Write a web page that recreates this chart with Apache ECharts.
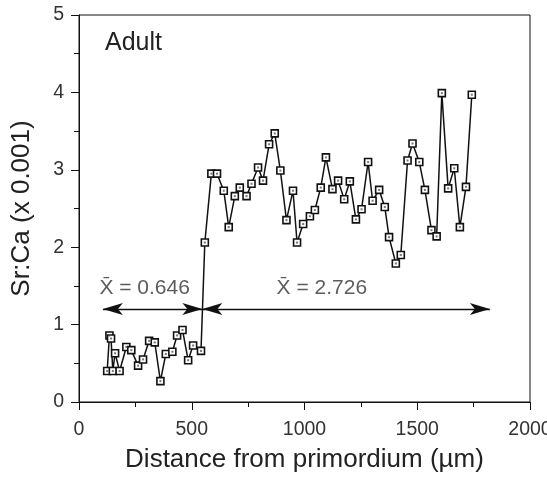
<!DOCTYPE html>
<html><head><meta charset="utf-8">
<script src="https://cdn.jsdelivr.net/npm/echarts@6/dist/echarts.min.js"></script>
<style>html,body{margin:0;padding:0;background:#fff}#c{width:547px;height:479px}</style>
</head><body><div id="c"></div>
<script>
const distance = [125,135,142,150,160,180,210,232,262,284,311,336,361,385,414,435,459,484,506,541,
 558,587,612,642,664,691,713,743,765,794,816,843,868,893,920,949,967,994,1024,1046,1072,1095,1124,1149,
 1176,1201,1228,1253,1282,1302,1331,1356,1375,1405,1427,1457,1479,1509,1534,1563,1586,1609,1637,1664,1689,1716,1742];
const srca = [0.40,0.86,0.82,0.40,0.63,0.40,0.71,0.67,0.47,0.55,0.79,0.77,0.27,0.62,0.65,0.86,0.93,0.54,0.73,0.66,
 2.06,2.95,2.95,2.73,2.26,2.66,2.77,2.66,2.82,3.03,2.86,3.33,3.47,2.99,2.35,2.73,2.06,2.30,2.40,2.48,2.77,3.16,2.75,2.86,
 2.62,2.85,2.36,2.49,3.10,2.60,2.74,2.52,2.13,1.79,1.90,3.12,3.34,3.10,2.74,2.22,2.14,3.99,2.76,3.02,2.26,2.78,3.97];
const xTicks = [0,500,1000,1500,2000];
const yTicks = [0,1,2,3,4,5];
const meanLabels = ['X\u0304 = 0.646','X\u0304 = 2.726'];
const arrowY = 1.2;
const arrowStart = 106, arrowSplit = 547, arrowEnd = 1822;
const labelPos = [[291,1.47],[1077,1.47]];

const pts = distance.map((d,i)=>[d,srca[i]]);
const font = 'Liberation Sans, Arial, sans-serif';
const chart = echarts.init(document.getElementById('c'));
chart.setOption({
  animation:false,
  grid:{left:79,right:17,top:15,bottom:77,show:true,borderColor:'#111',borderWidth:1,containLabel:false,outerBoundsMode:'none'},
  title:{text:'Adult',left:105,top:31,padding:0,textStyle:{fontFamily:font,fontSize:25,fontWeight:'normal',color:'#222'}},
  xAxis:{type:'value',min:0,max:2000,interval:500,
    name:'Distance from primordium (µm)',nameLocation:'middle',nameGap:45,
    nameTextStyle:{fontFamily:font,fontSize:26,color:'#222'},
    axisLine:{lineStyle:{color:'#111',width:1}},
    axisTick:{show:true,length:8,lineStyle:{color:'#111'}},
    minorTick:{show:true,splitNumber:2,length:5,lineStyle:{color:'#111'}},
    splitLine:{show:false},
    axisLabel:{fontFamily:font,fontSize:19.5,color:'#333',margin:18,formatter:v=>xTicks.includes(v)?String(v):''}},
  yAxis:{type:'value',min:0,max:5,interval:1,
    name:'Sr:Ca (x 0.001)',nameLocation:'middle',nameGap:44,
    nameTextStyle:{fontFamily:font,fontSize:26,color:'#222'},
    axisLine:{show:true,lineStyle:{color:'#111',width:1}},
    axisTick:{show:true,length:8,lineStyle:{color:'#111'}},
    minorTick:{show:true,splitNumber:2,length:5,lineStyle:{color:'#111'}},
    splitLine:{show:false},
    axisLabel:{fontFamily:font,fontSize:19.5,color:'#333',margin:15,formatter:v=>yTicks.includes(v)?String(v):''}},
  series:[
    {type:'line',data:pts,symbol:'rect',symbolSize:7,showAllSymbol:true,
     lineStyle:{color:'#111',width:1.5},
     itemStyle:{color:'#fff',borderColor:'#111',borderWidth:1.6},
     markLine:{silent:true,symbol:['arrow','arrow'],symbolSize:[9,20],
       lineStyle:{color:'#111',width:1.3,type:'solid'},label:{show:false},
       data:[[{coord:[arrowStart,arrowY]},{coord:[arrowSplit,arrowY]}],
             [{coord:[arrowSplit,arrowY]},{coord:[arrowEnd,arrowY]}]]}},
    {type:'scatter',data:pts,symbol:'rect',symbolSize:2,itemStyle:{color:'#555'},z:5},
    {type:'scatter',data:labelPos.map((p,i)=>({value:p,name:meanLabels[i]})),symbolSize:0,
     label:{show:true,position:'inside',formatter:p=>p.name,fontFamily:font,fontSize:21,color:'#333'}}
  ]
});
</script></body></html>
